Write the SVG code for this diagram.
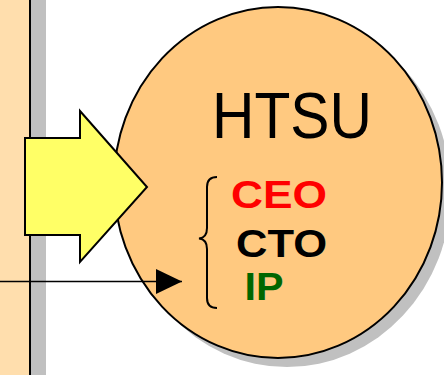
<svg xmlns="http://www.w3.org/2000/svg" width="444" height="375" viewBox="0 0 444 375">
<style>
.stroke{stroke:#000;stroke-width:2;}
.lbl{font-family:"Liberation Sans",Arial,sans-serif;}
.b{font-weight:bold;font-size:39px;}
</style>
<defs>
<marker id="ah" markerWidth="26" markerHeight="26" refX="26" refY="13" orient="auto" markerUnits="userSpaceOnUse">
<path d="M0,0.5 L26,13 L0,25.5 Z" fill="#000"/>
</marker>
</defs>
<rect width="444" height="375" fill="#fff"/>
<g id="panel">
<rect x="31" y="-5" width="15" height="385" fill="#c0c0c0"/>
<rect x="-5" y="-5" width="35" height="385" fill="#ffdead" class="stroke"/>
</g>
<g id="htsu">
<ellipse cx="287" cy="191.5" rx="164" ry="175.5" fill="#c0c0c0"/>
<ellipse cx="278" cy="182.5" rx="164" ry="175.5" fill="#ffc980" class="stroke"/>
<text class="lbl" x="212" y="138.3" font-size="64" textLength="160" lengthAdjust="spacingAndGlyphs">HTSU</text>
<path d="M217,177 C210,177 207,180 207,187 L207,228 C207,235 204,238 199,238.5 C204,239 207,242 207,249 L207,298 C207,305 210,308 217,308" fill="none" stroke="#000" stroke-width="2"/>
<text class="lbl b" x="231" y="208.3" fill="#ff0000" textLength="96" lengthAdjust="spacingAndGlyphs">CEO</text>
<text class="lbl b" x="236" y="256.7" fill="#000" textLength="91" lengthAdjust="spacingAndGlyphs">CTO</text>
<text class="lbl b" x="244.5" y="300" fill="#006600" textLength="39" lengthAdjust="spacingAndGlyphs">IP</text>
</g>
<g id="connectors">
<polygon points="25,138 80,138 80,111 147,187 80,262 80,235 25,235" fill="#ffff66" stroke="#000" stroke-width="2" stroke-linejoin="miter"/>
<line x1="0" y1="281.5" x2="182" y2="281.5" stroke="#000" stroke-width="1.5" marker-end="url(#ah)"/>
</g>
</svg>
